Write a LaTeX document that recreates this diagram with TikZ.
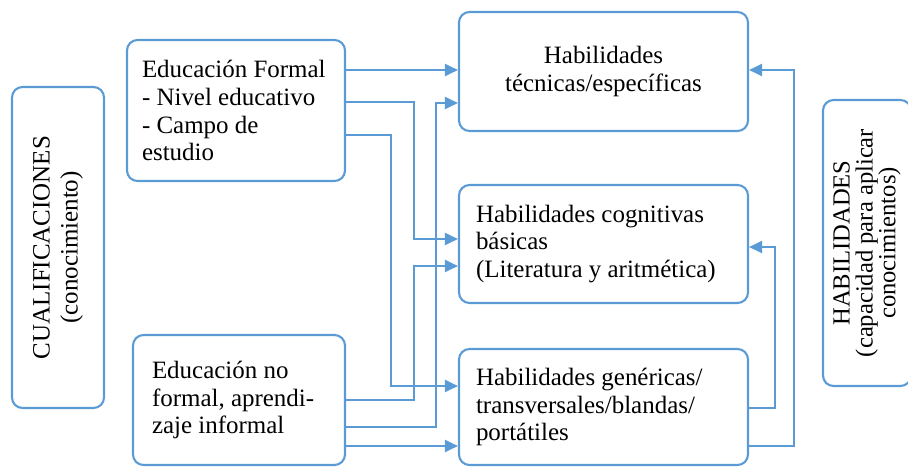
\documentclass[tikz,border=0pt]{standalone}
\usepackage{fontspec}
\setmainfont{Liberation Serif}
\usepackage{tikz}
\usetikzlibrary{arrows.meta, positioning, calc}
\definecolor{LineBlue}{HTML}{5B9BD5}
\tikzset{
  % Box styles
  textbox/.style={rectangle, rounded corners=6pt, draw=LineBlue, line width=1.2pt, font=\fontsize{14.2}{15.9}\selectfont, align=left, execute at begin node={\spaceskip=0pt\xspaceskip=0pt}},
  titlebox/.style={rectangle, rounded corners=6pt, draw=LineBlue, line width=1.2pt, font=\fontsize{14.2}{15.9}\selectfont, align=center},
  sidebox/.style={titlebox, rotate=90},
  % Arrow styles
  flowarrow/.style={-{Triangle[length=0.26cm, width=0.24cm]}, line width=1.2pt, LineBlue}
}

\begin{document}
\begin{tikzpicture}
  \useasboundingbox (0,0) rectangle (18.16,-9.32);

  % Side boxes
  \node[sidebox, minimum width=6.42cm, minimum height=1.84cm] (cual) at (1.16,-4.95) {
    CUALIFICACIONES\\(conocimiento)
  };
  \node[sidebox, minimum width=5.72cm, minimum height=1.76cm, font=\fontsize{14}{13}\selectfont] (hab) at (17.34,-4.86) {
    HABILIDADES\\(capacidad para aplicar\\conocimientos)
  };

  % Education boxes
  \node[textbox, text width=3.76cm, inner xsep=0.3cm, minimum height=2.82cm] (ef) at (4.72,-2.21) {
    Educación Formal\\- Nivel educativo\\- Campo de\\estudio
  };
  \node[textbox, text width=3.48cm, inner xsep=0.38cm, minimum height=2.6cm] (enf) at (4.78,-8.0) {
    Educación no\\formal, aprendi-\\zaje informal
  };

  % Skill boxes
  \node[titlebox, minimum width=5.78cm, minimum height=2.38cm] (tec) at (12.07,-1.43) {
    Habilidades\\técnicas/específicas
  };
  \node[textbox, text width=5.1cm, inner xsep=0.34cm, minimum height=2.36cm] (cog) at (12.07,-4.88) {
    Habilidades cognitivas\\básicas\\(Literatura y aritmética)
  };
  \node[textbox, text width=5.1cm, inner xsep=0.34cm, minimum height=2.32cm] (gen) at (12.07,-8.14) {
    Habilidades genéricas/\\transversales/blandas/\\portátiles
  };

  % Connectors from education
  \draw[flowarrow] (ef.east |- 0,-1.40) -- (tec.west |- 0,-1.40);
  \draw[flowarrow] (ef.east |- 0,-2.04) -| (8.28,-4.78) -- (cog.west |- 0,-4.78);
  \draw[flowarrow] (ef.east |- 0,-2.70) -| (7.82,-7.72) -- (gen.west |- 0,-7.72);
  \draw[flowarrow] (enf.east |- 0,-8.00) -| (8.28,-5.32) -- (cog.west |- 0,-5.32);
  \draw[flowarrow] (enf.east |- 0,-8.54) -| (8.72,-2.06) -- (tec.west |- 0,-2.06);
  \draw[flowarrow] (enf.east |- 0,-8.92) -- (gen.west |- 0,-8.92);

  % Feedback connectors
  \draw[flowarrow] (gen.east |- 0,-8.16) -| (15.50,-4.94) -- (cog.east |- 0,-4.94);
  \draw[flowarrow] (gen.east |- 0,-8.92) -| (15.88,-1.40) -- (tec.east |- 0,-1.40);
\end{tikzpicture}
\end{document}
